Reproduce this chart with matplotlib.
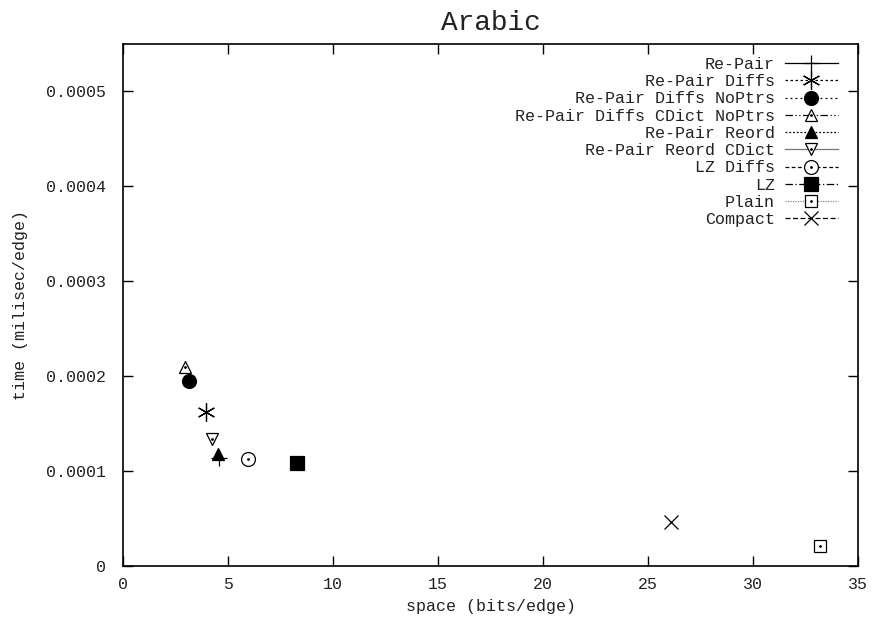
import matplotlib
matplotlib.use("Agg")
import matplotlib.pyplot as plt
from matplotlib.legend_handler import HandlerTuple
from matplotlib.ticker import FuncFormatter, MultipleLocator

plt.rcParams['font.family'] = ['Liberation Mono', 'DejaVu Sans Mono']
plt.rcParams['font.size'] = 12

# data
names = ['Re-Pair', 'Re-Pair Diffs', 'Re-Pair Diffs NoPtrs',
         'Re-Pair Diffs CDict NoPtrs', 'Re-Pair Reord', 'Re-Pair Reord CDict',
         'LZ Diffs', 'LZ', 'Plain', 'Compact']
space = [4.55, 3.94, 3.13, 2.97, 4.50, 4.22, 5.97, 8.27, 33.19, 26.08]
time_ = [0.000114, 0.000162, 0.000195, 0.000210, 0.000118, 0.000134,
         0.000113, 0.000109, 0.0000214, 0.000046]

# marker, size, facecolor, linestyle, linecolor, centre dot
styles = [
    ('+', 12, 'black', '-', 'black', False),
    ((6, 2, 0), 13, 'black', (0, (2, 2)), 'black', False),
    ('o', 10, 'black', (0, (1.5, 2.5)), 'black', False),
    ('^', 9, 'white', (0, (6, 2, 1, 2, 1, 2)), 'black', True),
    ('^', 9, 'black', (0, (1.5, 1.5)), 'black', False),
    ('v', 9, 'white', '-', '#777777', True),
    ('o', 10, 'white', (0, (3, 2)), 'black', True),
    ('s', 10, 'black', (0, (6, 2, 1, 2)), 'black', False),
    ('s', 9, 'white', (0, (1, 1)), '#888888', True),
    ('x', 10, 'black', (0, (4, 2)), 'black', False),
]

fig = plt.figure(figsize=(8.75, 6.22), dpi=100)
ax = fig.add_axes([0.1406, 0.09, 0.84, 0.8393])

handles = []
for name, x, y, st in zip(names, space, time_, styles):
    mk, ms, fc, ls, lc, dot = st
    h, = ax.plot([x], [y], marker=mk, markersize=ms, markerfacecolor=fc,
                 markeredgecolor='black', markeredgewidth=0.9,
                 linestyle=ls, color=lc, linewidth=0.9, label=name)
    if dot:
        d, = ax.plot([x], [y], marker='.', markersize=2, color='black',
                     linestyle='none')
        handles.append((h, d))
    else:
        handles.append(h)

ax.set_xlim(0, 35)
ax.set_ylim(0, 0.00055)
ax.xaxis.set_major_locator(MultipleLocator(5))
ax.yaxis.set_major_locator(MultipleLocator(0.0001))
ax.yaxis.set_major_formatter(FuncFormatter(lambda v, p: '{:g}'.format(round(v, 6))))
ax.tick_params(direction='in', length=7, width=1, top=True, right=True,
               labelsize=12, colors='black', labelcolor='#222222')
ax.tick_params(axis='y', pad=12)
ax.tick_params(axis='x', pad=8)
for s in ax.spines.values():
    s.set_linewidth(1.2)

ax.set_xlabel('space (bits/edge)', fontsize=12, labelpad=5, color='#222222')
ax.set_ylabel('time (milisec/edge)', fontsize=12, labelpad=13, color='#222222')
ax.set_title('Arabic', fontsize=20, pad=10, color='#222222')

ax.legend(handles, names, loc='upper right', frameon=False, markerfirst=False,
          handlelength=3.2, handletextpad=0.6, labelspacing=0.135,
          borderaxespad=0, bbox_to_anchor=(0.982, 0.988),
          fontsize=12, labelcolor='#222222',
          handler_map={tuple: HandlerTuple(ndivide=1)})

fig.savefig('out.png', dpi=100)
